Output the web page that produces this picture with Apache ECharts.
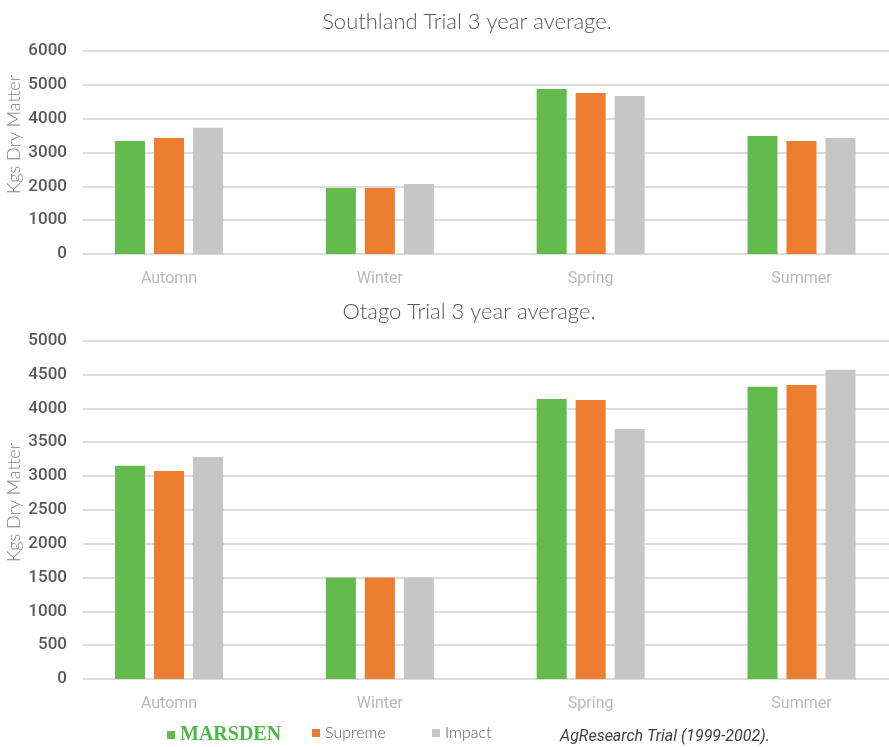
<!DOCTYPE html>
<html>
<head>
<meta charset="utf-8">
<script src="https://cdn.jsdelivr.net/npm/echarts@6/dist/echarts.min.js"></script>
<style>
html,body{margin:0;padding:0;background:#fff;}
#chart{width:889px;height:747px;}
</style>
</head>
<body>
<div id="chart"></div>
<script>
const seasons = ['Automn', 'Winter', 'Spring', 'Summer'];
const seriesNames = ['MARSDEN', 'Supreme', 'Impact'];
const southlandMarsden = [3340, 1950, 4880, 3490];
const southlandSupreme = [3430, 1950, 4760, 3340];
const southlandImpact  = [3730, 2070, 4670, 3430];
const otagoMarsden = [3150, 1500, 4140, 4320];
const otagoSupreme = [3075, 1500, 4125, 4345];
const otagoImpact  = [3280, 1500, 3695, 4570];
const southlandTicks = {min: 0, max: 6000, interval: 1000};
const otagoTicks = {min: 0, max: 5000, interval: 500};

const colors = ['#63bb4e', '#ed7d31', '#c6c6c6'];

const chart = echarts.init(document.getElementById('chart'));

const gridTop = {top: 51, height: 203};
const gridBot = {top: 340.7, height: 338.3};
const barGrid = {left: 63.6, width: 843.3, outerBoundsMode: 'none', containLabel: false};
const axisGrid = {left: 83, right: 0};

function catAxis(gridIndex, show) {
  return {
    type: 'category', gridIndex, data: seasons, show: show,
    axisLine: {show: false}, axisTick: {show: false},
    axisLabel: {color: '#bababa', fontSize: 16, fontFamily: 'Roboto', margin: 17}
  };
}
function valAxis(gridIndex, ticks, show) {
  return {
    type: 'value', gridIndex, min: ticks.min, max: ticks.max, interval: ticks.interval,
    show: show,
    axisLine: {show: false}, axisTick: {show: false},
    axisLabel: {color: '#595959', fontSize: 17, fontFamily: 'Roboto', fontWeight: 500, margin: 16,
                formatter: v => String(v)},
    splitLine: {show: show, lineStyle: {color: '#d0d0d0', width: 1.5}}
  };
}
function bars(name, data, xi, color) {
  return {
    name, type: 'bar', xAxisIndex: xi, yAxisIndex: xi, data,
    barWidth: 30, barGap: '30%', itemStyle: {color}
  };
}
function legendAt(left, item) {
  return {
    left, top: 725, padding: 0, itemWidth: 8, itemHeight: 8, icon: 'rect',
    textStyle: {color: '#595959', fontSize: 16, fontFamily: 'Lato', fontWeight: 300},
    data: [item]
  };
}

const option = {
  animation: false,
  backgroundColor: '#fff',
  grid: [
    Object.assign({}, axisGrid, gridTop),
    Object.assign({}, barGrid, gridTop),
    Object.assign({}, axisGrid, gridBot),
    Object.assign({}, barGrid, gridBot)
  ],
  xAxis: [catAxis(0, false), catAxis(1, true), catAxis(2, false), catAxis(3, true)],
  yAxis: [valAxis(0, southlandTicks, true), valAxis(1, southlandTicks, false),
          valAxis(2, otagoTicks, true), valAxis(3, otagoTicks, false)],
  legend: [
    legendAt(167, {name: 'MARSDEN', textStyle: {color: '#4cb848', fontFamily: 'Liberation Serif', fontWeight: 'bold', fontSize: 20}}),
    legendAt(312, {name: 'Supreme'}),
    legendAt(432, {name: 'Impact'})
  ],
  graphic: [
    {type: 'text', x: 467, y: 22, style: {text: 'Southland Trial 3 year average.', fill: '#595959', font: '300 22px Lato', align: 'center', verticalAlign: 'middle'}},
    {type: 'text', x: 469, y: 312, style: {text: 'Otago Trial 3 year average.', fill: '#595959', font: '300 22px Lato', align: 'center', verticalAlign: 'middle'}},
    {type: 'text', x: 14, y: 134.5, rotation: Math.PI/2, style: {text: 'Kgs Dry Matter', fill: '#7f7f7f', font: '300 18px Lato', align: 'center', verticalAlign: 'middle'}},
    {type: 'text', x: 14, y: 502.5, rotation: Math.PI/2, style: {text: 'Kgs Dry Matter', fill: '#7f7f7f', font: '300 18px Lato', align: 'center', verticalAlign: 'middle'}},
    {type: 'text', x: 560, y: 737, style: {text: 'AgResearch Trial (1999-2002).', fill: '#404040', font: 'italic 16px Roboto', verticalAlign: 'middle'}}
  ],
  series: [
    bars('MARSDEN', southlandMarsden, 1, colors[0]),
    bars('Supreme', southlandSupreme, 1, colors[1]),
    bars('Impact', southlandImpact, 1, colors[2]),
    bars('MARSDEN', otagoMarsden, 3, colors[0]),
    bars('Supreme', otagoSupreme, 3, colors[1]),
    bars('Impact', otagoImpact, 3, colors[2])
  ]
};
chart.setOption(option);
</script>
</body>
</html>
